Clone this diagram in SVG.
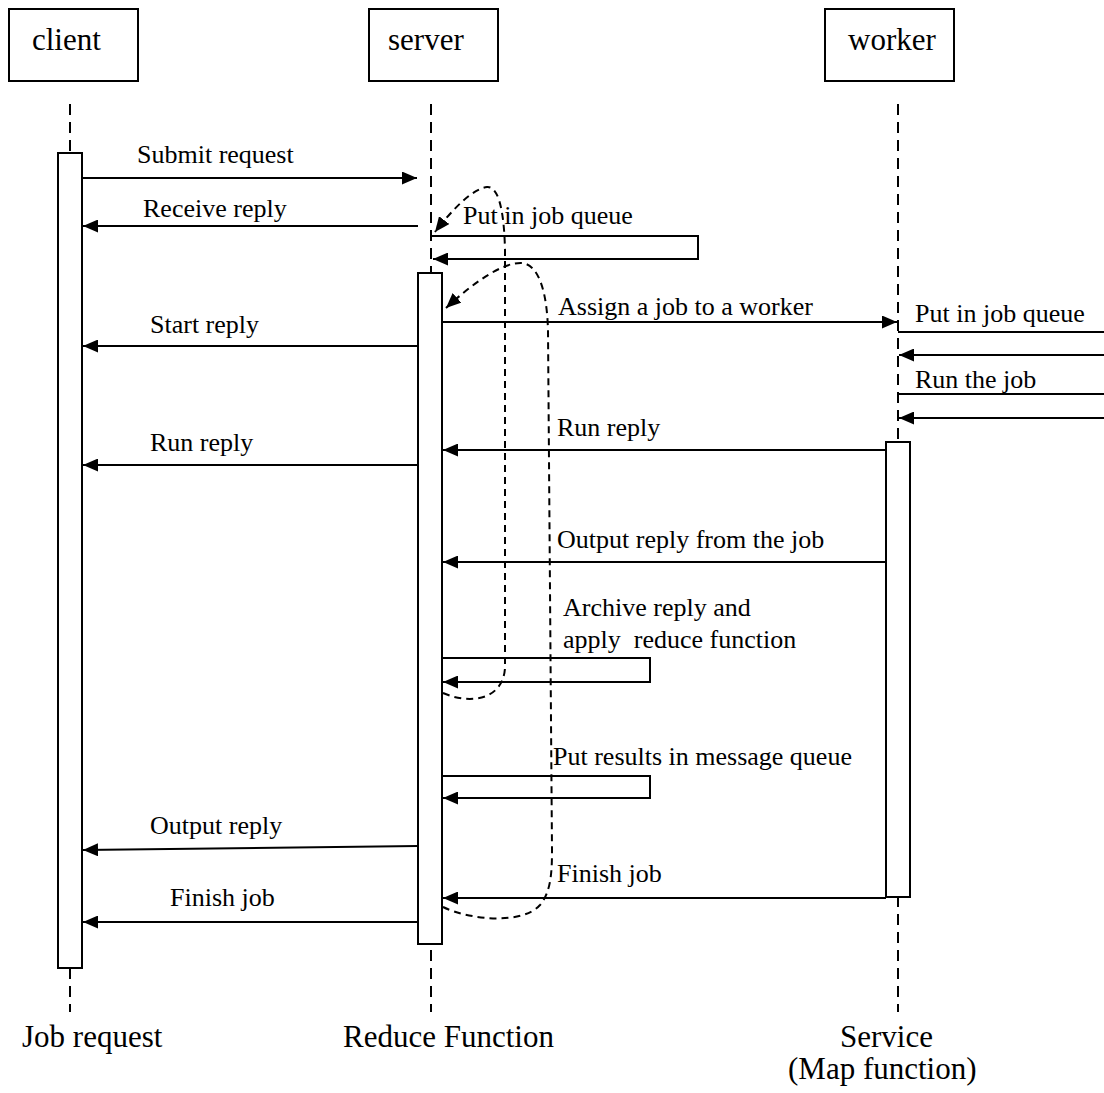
<svg xmlns="http://www.w3.org/2000/svg" width="1104" height="1093" viewBox="0 0 1104 1093">
<style>
text{font-family:"Liberation Serif","Times New Roman",serif;fill:#000;white-space:pre}
.hdr{font-size:31px}
.msg{font-size:26px}
.foot{font-size:31px}
.box{fill:#fff;stroke:#000;stroke-width:2}
.life{stroke:#000;stroke-width:2;stroke-dasharray:11 7;fill:none}
.act{fill:#fff;stroke:#000;stroke-width:2}
.ln{stroke:#000;stroke-width:2;fill:none}
.dash{stroke:#000;stroke-width:2;stroke-dasharray:7 5;fill:none}
</style>
<defs>
<marker id="ah" markerWidth="15" markerHeight="13" refX="15" refY="6.5" orient="auto" markerUnits="userSpaceOnUse">
<path d="M0,0 L15,6.5 L0,13 Z" fill="#000"/>
</marker>
</defs>
<g id="lifelines">
<line class="life" x1="70" y1="104" x2="70" y2="1012"/>
<line class="life" x1="431" y1="104" x2="431" y2="1012"/>
<line class="life" x1="898" y1="104" x2="898" y2="1012"/>
</g>
<g id="client">
<rect class="box" x="9" y="9" width="129" height="72"/>
<text class="hdr" x="32" y="50">client</text>
</g>
<g id="server">
<rect class="box" x="369" y="9" width="129" height="72"/>
<text class="hdr" x="388" y="50">server</text>
</g>
<g id="worker">
<rect class="box" x="825" y="9" width="129" height="72"/>
<text class="hdr" x="848" y="50">worker</text>
</g>
<g id="client-activation"><rect class="act" x="58" y="153" width="24" height="815"/></g>
<g id="server-activation"><rect class="act" x="418" y="273" width="24" height="671"/></g>
<g id="worker-activation"><rect class="act" x="886" y="442" width="24" height="455"/></g>
<g id="connectors">
<line class="ln" x1="82" y1="178" x2="417" y2="178" marker-end="url(#ah)"/>
<line class="ln" x1="418" y1="226" x2="83" y2="226" marker-end="url(#ah)"/>
<polyline class="ln" points="431,236 698,236 698,259 433,259" marker-end="url(#ah)"/>
<line class="ln" x1="442" y1="322" x2="897" y2="322" marker-end="url(#ah)"/>
<line class="ln" x1="418" y1="346" x2="83" y2="346" marker-end="url(#ah)"/>
<line class="ln" x1="898" y1="332" x2="1104" y2="332"/>
<line class="ln" x1="1104" y1="355" x2="899" y2="355" marker-end="url(#ah)"/>
<line class="ln" x1="898" y1="394" x2="1104" y2="394"/>
<line class="ln" x1="1104" y1="418" x2="899" y2="418" marker-end="url(#ah)"/>
<line class="ln" x1="886" y1="450" x2="443" y2="450" marker-end="url(#ah)"/>
<line class="ln" x1="418" y1="465" x2="83" y2="465" marker-end="url(#ah)"/>
<line class="ln" x1="886" y1="562" x2="443" y2="562" marker-end="url(#ah)"/>
<polyline class="ln" points="442,658 650,658 650,682 443,682" marker-end="url(#ah)"/>
<polyline class="ln" points="442,776 650,776 650,798 443,798" marker-end="url(#ah)"/>
<line class="ln" x1="418" y1="846" x2="83" y2="850" marker-end="url(#ah)"/>
<line class="ln" x1="886" y1="898" x2="443" y2="898" marker-end="url(#ah)"/>
<line class="ln" x1="418" y1="922" x2="83" y2="922" marker-end="url(#ah)"/>
<path class="dash" d="M443,693 C470,705 503,700 505,668 L505,250 C504,205 497,186 487,187 C472,189 452,210 435,232" marker-end="url(#ah)"/>
<path class="dash" d="M443,907 C470,920 522,925 540,905 C551,892 552,872 552,850 L548,330 C547,295 540,265 522,263 C502,262 472,284 446,308" marker-end="url(#ah)"/>
</g>
<g id="labels">
<text class="msg" x="137" y="163">Submit request</text>
<text class="msg" x="143" y="217">Receive reply</text>
<text class="msg" x="463" y="224">Put in job queue</text>
<text class="msg" x="558" y="315">Assign a job to a worker</text>
<text class="msg" x="150" y="333">Start reply</text>
<text class="msg" x="915" y="322">Put in job queue</text>
<text class="msg" x="915" y="388">Run the job</text>
<text class="msg" x="557" y="436">Run reply</text>
<text class="msg" x="150" y="451">Run reply</text>
<text class="msg" x="557" y="548">Output reply from the job</text>
<text class="msg" x="563" y="616">Archive reply and</text>
<text class="msg" x="563" y="648">apply  reduce function</text>
<text class="msg" x="553" y="765">Put results in message queue</text>
<text class="msg" x="150" y="834">Output reply</text>
<text class="msg" x="557" y="882">Finish job</text>
<text class="msg" x="170" y="906">Finish job</text>
<text class="foot" x="22" y="1047">Job request</text>
<text class="foot" x="343" y="1047">Reduce Function</text>
<text class="foot" x="840" y="1047">Service</text>
<text class="foot" x="788" y="1079">(Map function)</text>
</g>
</svg>
